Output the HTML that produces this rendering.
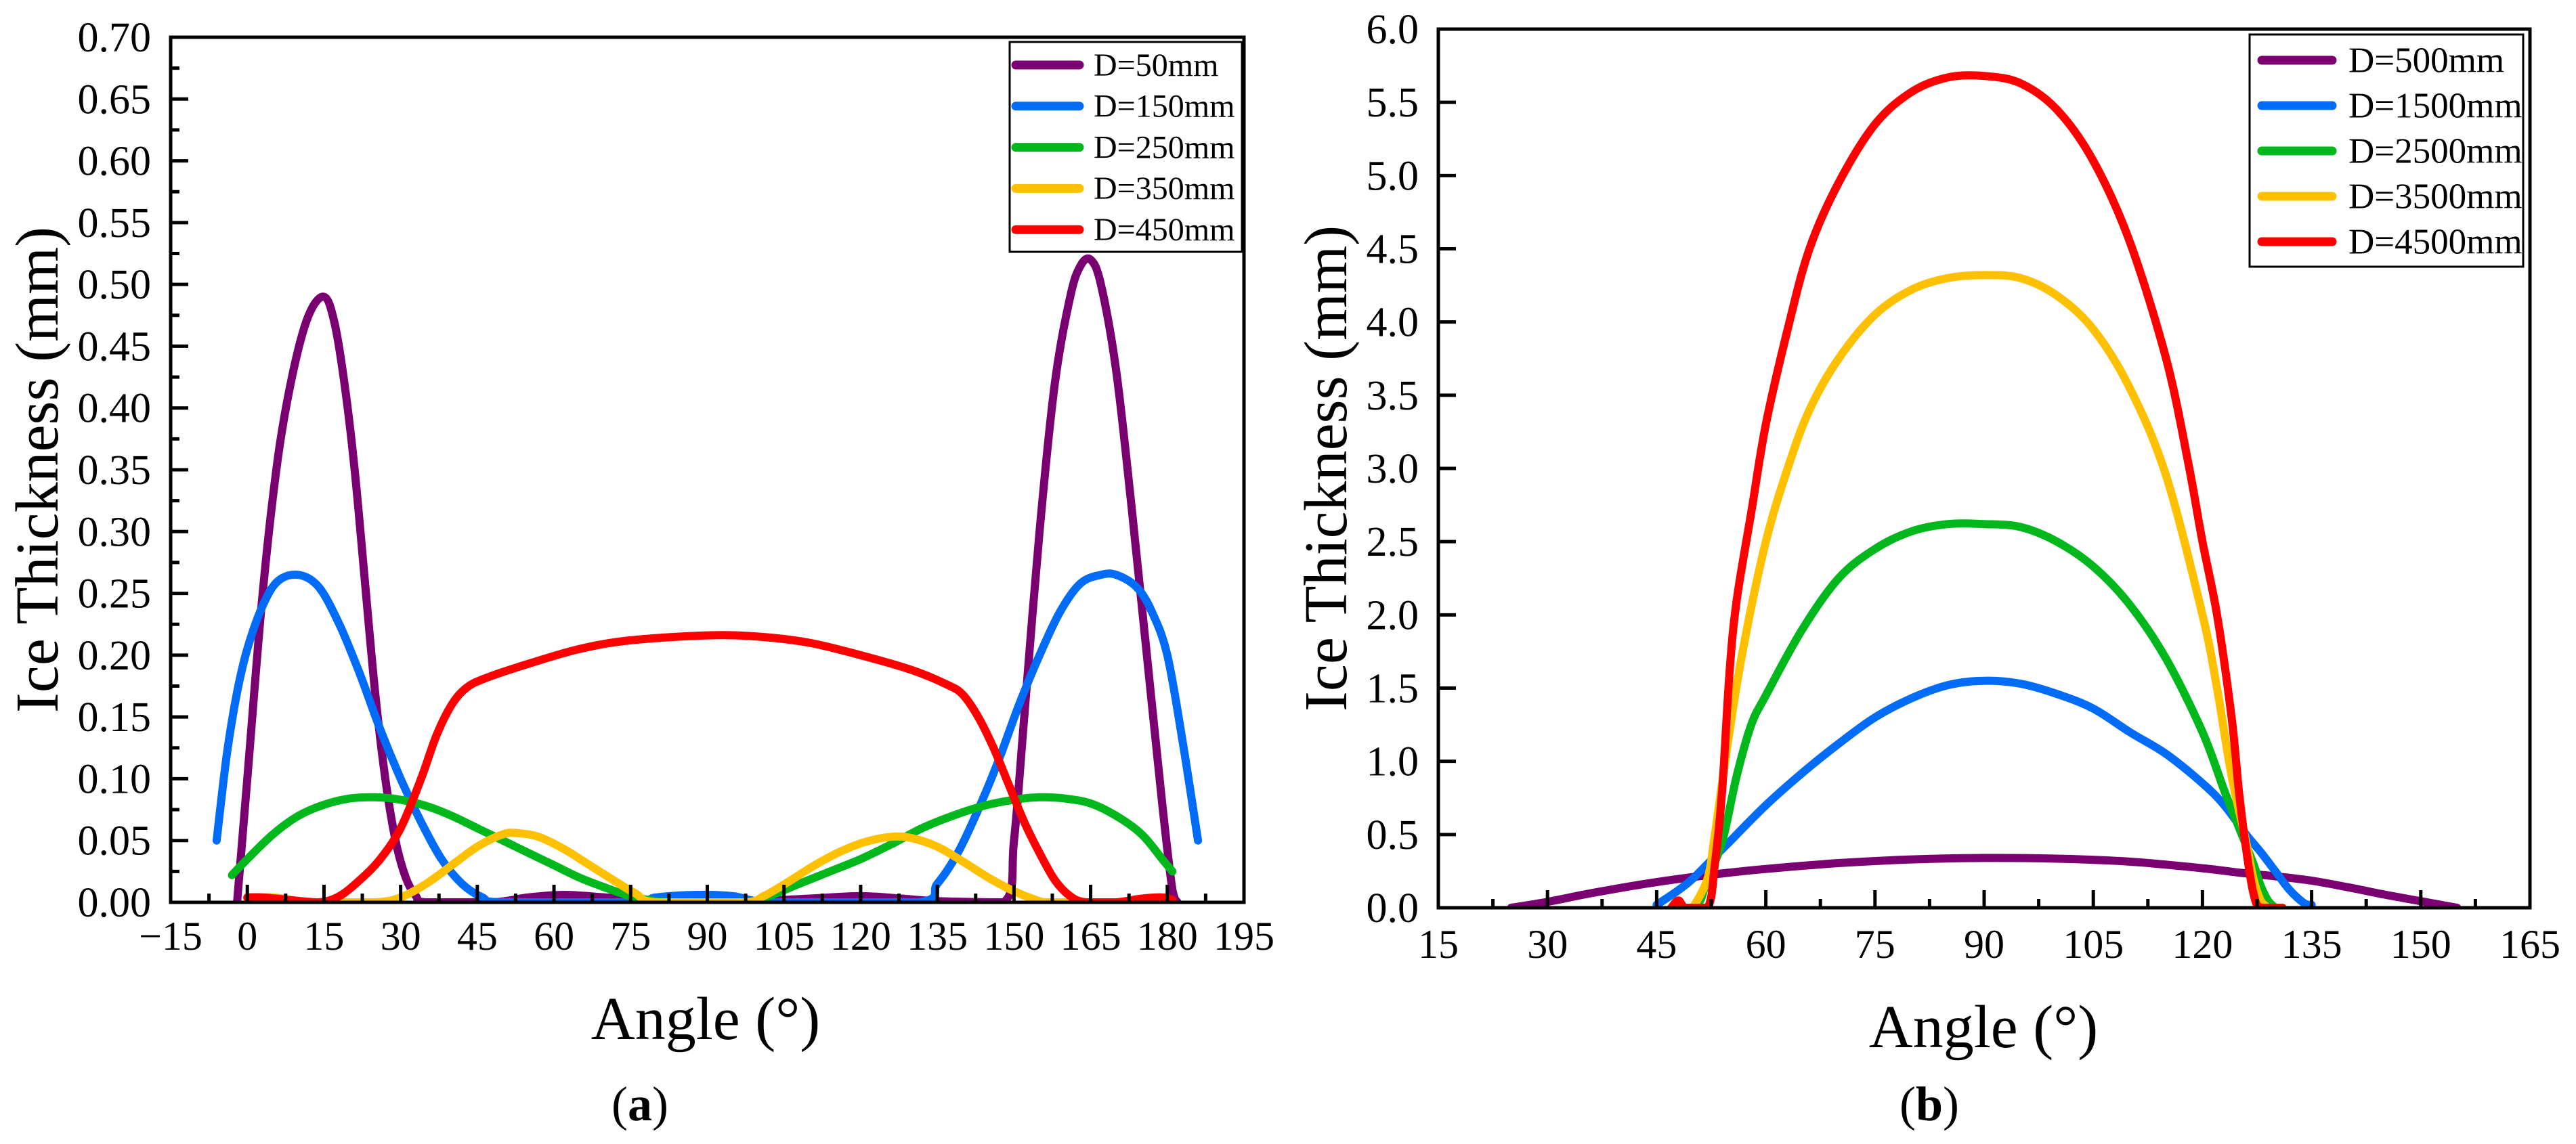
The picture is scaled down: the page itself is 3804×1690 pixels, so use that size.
<!DOCTYPE html>
<html><head><meta charset="utf-8"><style>
html,body{margin:0;padding:0;background:#fff;}
svg{display:block;font-family:"Liberation Serif",serif;}
</style></head><body>
<svg id="fig" width="3804" height="1690" viewBox="0 0 3804 1690" xmlns="http://www.w3.org/2000/svg"></svg>
<script>
// ---- Panel (a) data ----
const aSeriesNames = ["D=50mm","D=150mm","D=250mm","D=350mm","D=450mm"];
const aXTicks = [-15,0,15,30,45,60,75,90,105,120,135,150,165,180,195];
const aYTicks = [0,0.05,0.1,0.15,0.2,0.25,0.3,0.35,0.4,0.45,0.5,0.55,0.6,0.65,0.7];
const aYTickLabels = ["0.00","0.05","0.10","0.15","0.20","0.25","0.30","0.35","0.40","0.45","0.50","0.55","0.60","0.65","0.70"];
const a50x = [-2,0,3,6,9,12,15,17,19,21,23,25,27,29,31,33,35,48,55,62,70,80,90,100,110,120,128,135,148,150,152,155,158,161,163,165,167,170,173,176,179,181,182];
const a50y = [0,0.1,0.25,0.36,0.43,0.475,0.49,0.47,0.42,0.35,0.26,0.17,0.1,0.05,0.02,0.005,0,0,0.004,0.006,0.004,0.001,0,0.001,0.003,0.005,0.003,0.001,0,0.05,0.15,0.3,0.42,0.49,0.515,0.52,0.5,0.43,0.32,0.2,0.08,0.01,0];
const a150x = [-6,-4,-2,0,3,6,10,14,18,22,26,30,34,38,42,46,50,75,80,88,95,103,131,135,139,143,147,151,155,159,163,167,170,174,177,180,183,186];
const a150y = [0.05,0.12,0.17,0.205,0.24,0.26,0.265,0.255,0.225,0.185,0.14,0.1,0.065,0.035,0.015,0.004,0,0,0.004,0.006,0.005,0,0,0.015,0.04,0.075,0.115,0.16,0.2,0.235,0.258,0.265,0.265,0.255,0.235,0.2,0.13,0.05];
const a250x = [-3,0,5,10,15,20,25,30,35,40,45,50,55,60,65,70,75,80,84,98,102,108,114,120,126,132,138,144,150,155,160,165,170,175,179,181];
const a250y = [0.022,0.035,0.055,0.07,0.079,0.084,0.085,0.083,0.078,0.07,0.06,0.05,0.04,0.03,0.02,0.012,0.005,0.001,0,0,0.005,0.015,0.025,0.035,0.047,0.06,0.07,0.078,0.083,0.085,0.084,0.08,0.07,0.055,0.035,0.025];
const a350x = [0,5,10,13,25,30,35,40,45,50,53,57,62,67,72,76,80,97,101,106,111,116,121,126,130,135,140,145,150,155,157,170,175,180];
const a350y = [0.003,0.004,0.001,0,0,0.004,0.015,0.03,0.045,0.055,0.056,0.053,0.043,0.03,0.017,0.007,0,0,0.005,0.017,0.03,0.041,0.049,0.053,0.052,0.045,0.033,0.02,0.009,0.001,0,0,0.003,0.002];
const a450x = [0,3,8,14,18,22,26,30,34,37,40,43,47,55,65,75,90,100,110,120,130,137,140,143,146,149,152,155,158,161,164,170,175,179,181];
const a450y = [0.004,0.004,0.002,0,0.005,0.018,0.035,0.06,0.1,0.135,0.16,0.174,0.182,0.193,0.205,0.212,0.216,0.215,0.21,0.2,0.188,0.176,0.168,0.15,0.125,0.095,0.065,0.04,0.018,0.005,0,0,0.003,0.004,0.002];

// ---- Panel (b) data ----
const bSeriesNames = ["D=500mm","D=1500mm","D=2500mm","D=3500mm","D=4500mm"];
const bXTicks = [15,30,45,60,75,90,105,120,135,150,165];
const bYTicks = [0,0.5,1,1.5,2,2.5,3,3.5,4,4.5,5,5.5,6];
const bYTickLabels = ["0.0","0.5","1.0","1.5","2.0","2.5","3.0","3.5","4.0","4.5","5.0","5.5","6.0"];
const b500x = [25,30,35,40,45,50,55,60,70,80,90,100,110,120,125,130,135,140,145,150,155];
const b500y = [0,0.04,0.09,0.135,0.175,0.21,0.24,0.265,0.305,0.33,0.34,0.335,0.315,0.27,0.24,0.215,0.185,0.14,0.09,0.045,0];
const b1500x = [45,48,50,53,55,60,65,70,75,80,85,90,95,100,105,110,115,120,123,126,128,130,132,134,135];
const b1500y = [0.02,0.12,0.2,0.35,0.45,0.7,0.92,1.12,1.3,1.43,1.52,1.55,1.53,1.46,1.36,1.2,1.05,0.85,0.7,0.5,0.38,0.25,0.12,0.03,0.02];
const b2500x = [50,51,52,54,56,58,60,65,70,75,80,85,90,95,100,105,110,115,120,123,125,127,128,129,130];
const b2500y = [0,0.05,0.2,0.45,0.9,1.25,1.45,1.9,2.25,2.45,2.57,2.62,2.62,2.6,2.5,2.33,2.07,1.7,1.2,0.8,0.55,0.3,0.15,0.05,0];
const b3500x = [50,52,53,55,57,60,63,66,70,75,80,85,90,95,100,105,110,115,120,122,124,126,127,128,129];
const b3500y = [0,0.2,0.5,1.2,1.8,2.5,3.0,3.4,3.75,4.05,4.22,4.3,4.32,4.3,4.18,3.95,3.55,2.95,2.0,1.5,0.9,0.45,0.2,0.05,0];
const b4500x = [47,48,49,52,53,54,55,56,58,60,63,66,70,75,80,85,90,95,100,105,110,115,118,120,122,124,125,126,127,128,131];
const b4500y = [0,0.05,0,0,0.3,0.8,1.6,2.1,2.7,3.3,3.95,4.5,4.95,5.35,5.57,5.67,5.68,5.63,5.45,5.1,4.55,3.75,3.05,2.5,2.0,1.3,0.8,0.4,0.1,0,0];

const colors = ["#7a0072","#006cf7","#00b81c","#ffc000","#ff0000"];
const NS = "http://www.w3.org/2000/svg";
const svg = document.getElementById("fig");
function mk(tag, attrs, parent){const e=document.createElementNS(NS,tag);for(const k in attrs)e.setAttribute(k,attrs[k]);(parent||svg).appendChild(e);return e;}

function smoothPath(P, base){
  let d = "M"+P[0][0].toFixed(1)+","+P[0][1].toFixed(1);
  for(let i=0;i<P.length-1;i++){
    const p0=P[i-1]||P[i], p1=P[i], p2=P[i+1], p3=P[i+2]||P[i+1];
    const c1x=p1[0]+(p2[0]-p0[0])/6, c1y=Math.min(base,p1[1]+(p2[1]-p0[1])/6);
    const c2x=p2[0]-(p3[0]-p1[0])/6, c2y=Math.min(base,p2[1]-(p3[1]-p1[1])/6);
    d+=" C"+c1x.toFixed(1)+","+c1y.toFixed(1)+" "+c2x.toFixed(1)+","+c2y.toFixed(1)+" "+p2[0].toFixed(1)+","+p2[1].toFixed(1);
  }
  return d;
}

function panel(cfg){
  const g = mk("g",{});
  
  
  const X = v => cfg.L + (v-cfg.xmin)/(cfg.xmax-cfg.xmin)*(cfg.R-cfg.L);
  const Y = v => cfg.B - (v-cfg.ymin)/(cfg.ymax-cfg.ymin)*(cfg.B-cfg.T);
  const clip = mk("clipPath",{id:cfg.name+"-clip"},g);
  mk("rect",{x:cfg.L,y:cfg.T,width:cfg.R-cfg.L,height:cfg.B-cfg.T},clip);
  const sg = mk("g",{"clip-path":"url(#"+cfg.name+"-clip)"},g);
  cfg.series.forEach((s,i)=>{
    const P = s.x.map((xv,j)=>[X(xv),Y(s.y[j])]);
    const pl = mk("path",{d:smoothPath(P,cfg.B),fill:"none",stroke:colors[i],"stroke-width":12,"stroke-linejoin":"round","stroke-linecap":"round"},sg);
    
    
  });
  cfg.xticks.forEach((t,i)=>{
    const x=X(t);
    mk("line",{x1:x,x2:x,y1:cfg.B,y2:cfg.B-26,stroke:"#000","stroke-width":5},g);
    if(i<cfg.xticks.length-1){const xm=X(t+(cfg.xticks[1]-cfg.xticks[0])/2);
      mk("line",{x1:xm,x2:xm,y1:cfg.B,y2:cfg.B-13,stroke:"#000","stroke-width":5},g);}
    const tx = mk("text",{x:x,y:cfg.B+cfg.xlabOff,"text-anchor":"middle","font-size":60},g);
    tx.textContent = t<0 ? "\u2212"+(-t) : String(t);
    
    
  });
  cfg.yticks.forEach((t,i)=>{
    const y=Y(t);
    mk("line",{x1:cfg.L,x2:cfg.L+26,y1:y,y2:y,stroke:"#000","stroke-width":5},g);
    if(cfg.yminor && i<cfg.yticks.length-1){const ym=Y(t+(cfg.yticks[1]-cfg.yticks[0])/2);
      mk("line",{x1:cfg.L,x2:cfg.L+13,y1:ym,y2:ym,stroke:"#000","stroke-width":5},g);}
    const ty = mk("text",{x:cfg.L-29,y:y+21,"text-anchor":"end","font-size":62},g);
    ty.textContent = cfg.ylabels[i];
    
    
  });
  const fr = mk("rect",{x:cfg.L,y:cfg.T,width:cfg.R-cfg.L,height:cfg.B-cfg.T,fill:"none",stroke:"#000","stroke-width":5},g);
  
  
  const xt = mk("text",{x:cfg.xtx,y:cfg.xty,"text-anchor":"middle","font-size":90},g);
  xt.textContent = "Angle (\u00B0)";
  
  
  const yt = mk("text",{x:0,y:0,"text-anchor":"middle","font-size":90,transform:"translate("+cfg.ytx+","+((cfg.T+cfg.B)/2)+") rotate(-90)"},g);
  yt.textContent = "Ice Thickness (mm)";
  
  
  const cap = mk("text",{x:cfg.capx,y:1655,"text-anchor":"middle","font-size":72},g);
  cap.innerHTML = '(<tspan font-weight="bold">'+cfg.cap+'</tspan>)';
  
  
  const lg = mk("g",{},g);
  
  
  const Lg = cfg.leg;
  mk("rect",{x:Lg.x,y:Lg.y,width:Lg.w,height:Lg.h,fill:"#fff",stroke:"#000","stroke-width":3},lg);
  cfg.names.forEach((n,i)=>{
    const yy = Lg.y0 + i*Lg.dy;
    const ent = mk("g",{},lg);
    
    
    mk("line",{x1:Lg.lx1,x2:Lg.lx2,y1:yy,y2:yy,stroke:colors[i],"stroke-width":13,"stroke-linecap":"round"},ent);
    const tt = mk("text",{x:Lg.tx,y:yy+Lg.fs*0.33,"font-size":Lg.fs},ent);
    tt.textContent = n;
  });
}

panel({name:"panel-a",L:252,R:1837,T:55,B:1333,xmin:-15,xmax:195,ymin:0,ymax:0.7,
  xticks:aXTicks,yticks:aYTicks,ylabels:aYTickLabels,yminor:true,xlabOff:70,
  names:aSeriesNames,
  series:[{x:a50x,y:a50y},{x:a150x,y:a150y},{x:a250x,y:a250y},{x:a350x,y:a350y},{x:a450x,y:a450y}],
  xtx:1042,xty:1535,ytx:85,capx:945,cap:"a",
  leg:{x:1491,y:62,w:343,h:310,y0:96,dy:60.8,lx1:1500,lx2:1594,tx:1615,fs:48}});

panel({name:"panel-b",L:2124,R:3736,T:43,B:1341,xmin:15,xmax:165,ymin:0,ymax:6,
  xticks:bXTicks,yticks:bYTicks,ylabels:bYTickLabels,yminor:false,xlabOff:74,
  names:bSeriesNames,
  series:[{x:b500x,y:b500y},{x:b1500x,y:b1500y},{x:b2500x,y:b2500y},{x:b3500x,y:b3500y},{x:b4500x,y:b4500y}],
  xtx:2929,xty:1547,ytx:1988,capx:2849,cap:"b",
  leg:{x:3322,y:51,w:404,h:343,y0:89,dy:67,lx1:3340,lx2:3444,tx:3468,fs:53}});
</script>
</body></html>
